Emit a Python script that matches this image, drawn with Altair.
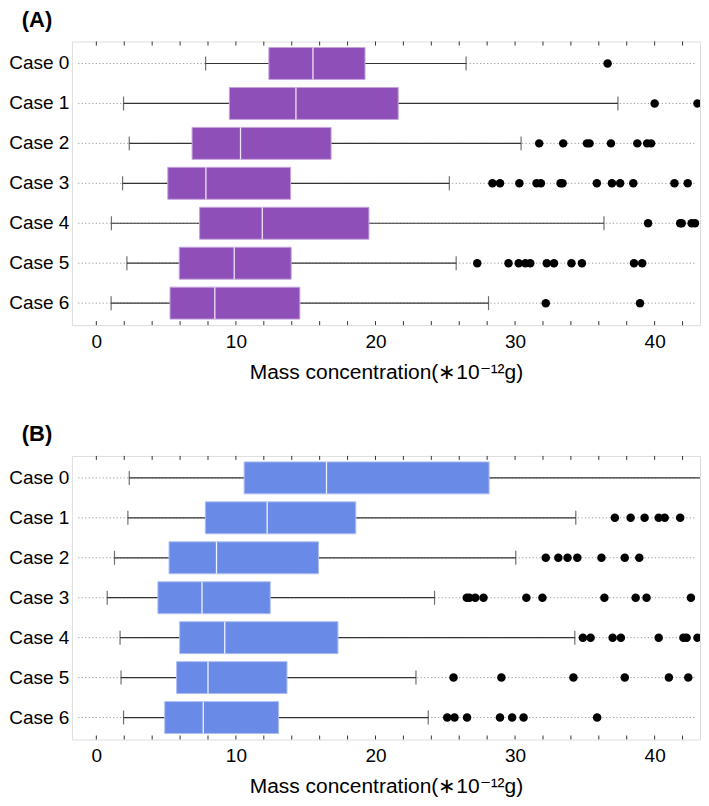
import altair as alt
import pandas as pd

CASES = ["Case 0", "Case 1", "Case 2", "Case 3", "Case 4", "Case 5", "Case 6"]

# Panel A (purple)
A_LOW = [7.83, 1.95, 2.36, 1.88, 1.08, 2.19, 1.06]
A_Q1 = [12.36, 9.53, 6.86, 5.12, 7.40, 5.94, 5.28]
A_MED = [15.52, 14.30, 10.33, 7.85, 11.89, 9.88, 8.49]
A_Q3 = [19.25, 21.63, 16.82, 13.92, 19.53, 13.96, 14.58]
A_HIGH = [26.49, 37.37, 30.43, 25.29, 36.37, 25.78, 28.10]
A_OUT = [
    [36.63],
    [40.00, 43.07],
    [31.73, 33.45, 35.15, 35.34, 36.87, 38.76, 39.46, 39.75],
    [28.38, 28.92, 30.31, 31.54, 31.85, 33.26, 33.40, 35.86, 36.94, 37.53, 38.47, 41.42, 42.37],
    [39.53, 41.83, 41.94, 42.65, 42.89],
    [27.29, 29.53, 30.26, 30.74, 31.09, 32.27, 32.79, 34.04, 34.79, 38.52, 39.11],
    [32.20, 38.95],
]

# Panel B (blue)
B_LOW = [2.36, 2.26, 1.30, 0.78, 1.70, 1.77, 1.95]
B_Q1 = [10.59, 7.81, 5.21, 4.41, 5.97, 5.75, 4.90]
B_MED = [16.49, 12.24, 8.61, 7.57, 9.20, 8.00, 7.66]
B_Q3 = [28.14, 18.59, 15.92, 12.46, 17.31, 13.66, 13.06]
B_HIGH = [46.00, 34.35, 30.05, 24.23, 34.28, 22.90, 23.78]
B_OUT = [
    [],
    [37.15, 38.28, 39.28, 40.29, 40.72, 41.83],
    [32.20, 33.10, 33.76, 34.46, 36.19, 37.86, 38.90],
    [26.54, 26.73, 27.15, 27.74, 30.81, 31.96, 36.40, 38.64, 39.42, 42.60],
    [34.86, 35.41, 36.99, 37.58, 40.29, 42.06, 42.29, 43.07],
    [25.59, 29.02, 34.18, 37.86, 41.02, 42.41],
    [25.14, 25.66, 26.56, 28.92, 29.79, 30.61, 35.88],
]

X_DOMAIN = [-1.75, 43.25]
X_LABELS = [0, 10, 20, 30, 40]
X_MINOR = list(range(0, 43, 2))
GRID_START, GRID_END = -1.3, 42.95
X_TITLE = "Mass concentration(\u221710\u207b\u00b9\u00b2g)"

W, H = 629, 284
FONT = "Liberation Sans"


def panel(label, fill, edge, med_color, low, q1, med, q3, high, outs):
    box = pd.DataFrame({"case": CASES, "low": low, "q1": q1, "med": med,
                        "q3": q3, "high": high,
                        "gs": [GRID_START] * len(CASES), "ge": [GRID_END] * len(CASES)})
    caps = pd.DataFrame({"case": CASES * 2, "v": list(low) + list(high)})
    out = pd.DataFrame([{"case": c, "v": v} for c, vs in zip(CASES, outs) for v in vs])
    ticks = pd.DataFrame({"v": X_MINOR})

    xs = alt.Scale(domain=X_DOMAIN, nice=False, zero=False)
    xa = alt.Axis(values=X_LABELS, ticks=False, domain=False, grid=False,
                  labelFontSize=19, labelPadding=7, labelColor="black", labelFont=FONT,
                  title=X_TITLE, titleFontSize=21, titleFontWeight="normal",
                  titleColor="black", titleFont=FONT, titlePadding=10)
    ys = alt.Scale(domain=CASES, paddingInner=0, paddingOuter=0.05)
    ya = alt.Axis(title=None, ticks=False, domain=False, grid=False,
                  labelFontSize=19, labelPadding=3, labelColor="black", labelFont=FONT)

    def X(f):
        return alt.X(f, type="quantitative", scale=xs, axis=xa)

    Y = alt.Y("case:N", sort=CASES, scale=ys, axis=ya)

    grid = alt.Chart(box).mark_rule(color="#9a9a9a", strokeWidth=1, strokeDash=[1.2, 2.3]).encode(
        x=X("gs"), x2="ge", y=Y)
    whisk = alt.Chart(box).mark_rule(color="#333333", strokeWidth=1.2, clip=True).encode(
        x=X("low"), x2="high", y=Y)
    capm = alt.Chart(caps).mark_tick(color="#333333", size=14, thickness=1.2, clip=True).encode(
        x=X("v"), y=Y)
    bars = alt.Chart(box).mark_bar(size=32, color=fill, stroke=edge, strokeWidth=1).encode(
        x=X("q1"), x2="q3", y=Y)
    medm = alt.Chart(box).mark_tick(color=med_color, size=32, thickness=1.3, opacity=1).encode(
        x=X("med"), y=Y)
    pts = alt.Chart(out).mark_circle(size=72, color="black", opacity=1, clip=True).encode(
        x=X("v"), y=Y)
    top_t = alt.Chart(ticks).mark_rule(color="#333333", strokeWidth=1).encode(
        x=X("v"), y=alt.value(0), y2=alt.value(4))
    bot_t = alt.Chart(ticks).mark_rule(color="#333333", strokeWidth=1).encode(
        x=X("v"), y=alt.value(H), y2=alt.value(H - 4))

    return alt.layer(grid, whisk, capm, bars, medm, pts, top_t, bot_t).properties(
        width=W, height=H,
        title=alt.TitleParams(label, anchor="start", frame="bounds", fontSize=22,
                              fontWeight="bold", font=FONT, color="black", dx=13, offset=9),
    )


pa = panel("(A)", "#8e50b8", "#c4a4dc", "#efe4f6", A_LOW, A_Q1, A_MED, A_Q3, A_HIGH, A_OUT)
pb = panel("(B)", "#6a8ae8", "#aebff3", "#eef2fd", B_LOW, B_Q1, B_MED, B_Q3, B_HIGH, B_OUT)

chart = alt.vconcat(pa, pb, spacing=40).properties(padding=0).configure_view(
    stroke="#333333", strokeWidth=1.2
).configure(font=FONT)

chart.save("out.html", embed_options={"renderer": "svg", "actions": False})
